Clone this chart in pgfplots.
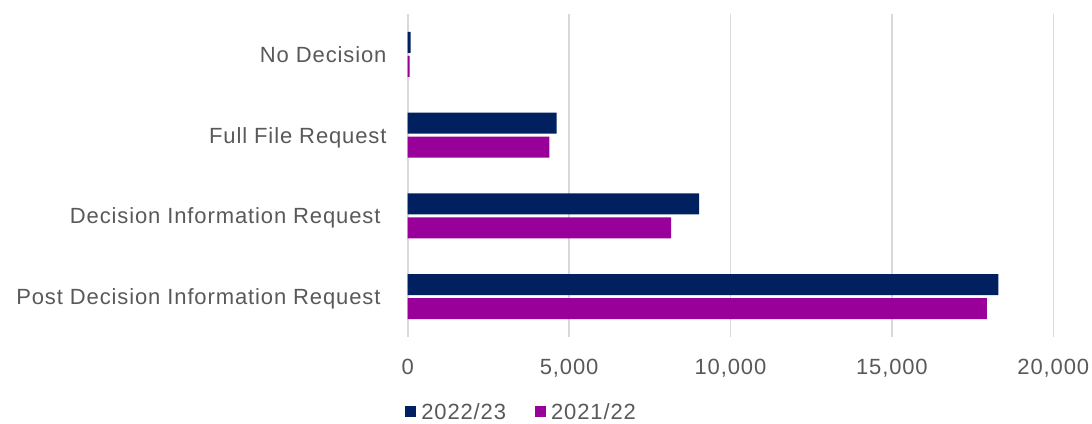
\documentclass[border=0pt]{standalone}
\usepackage{pgfplots}
\pgfplotsset{compat=1.18}
\usepackage{fontspec}
\setmainfont{Liberation Sans}[LetterSpace=4]
\definecolor{navy}{HTML}{002060}
\definecolor{plum}{HTML}{990099}
\definecolor{txt}{HTML}{595959}
\definecolor{gridc}{HTML}{D9D9D9}

\begin{document}
\begin{tikzpicture}
\begin{axis}[
  at={(407.7pt,86pt)}, anchor=south west,
  scale only axis, width=645.6pt, height=323pt,
  xbar, bar width=21pt,
  xmin=0, xmax=20000, ymin=-0.5, ymax=3.5,
  xtick={0,5000,...,20000},
  scaled x ticks=false,
  ytick={0,1,2,3},
  yticklabels={Post Decision Information Request\hspace*{6pt},Decision Information Request\hspace*{6pt},Full File Request,No Decision},
  axis line style={draw=none},
  major tick length=0pt,
  xmajorgrids, major grid style={gridc, line width=1.6pt},
  font=\fontsize{22}{26}\selectfont,
  tick label style={text=txt},
  xticklabel style={anchor=base, inner sep=0pt, yshift=-37pt},
  yticklabel style={anchor=base east, inner sep=0pt, xshift=-21pt, yshift=-8pt},
  /pgf/number format/assume math mode=true,
  /pgf/number format/fixed,
  /pgf/number format/1000 sep={,},
  legend columns=2,
  legend style={at={(rel axis cs:-0.004,-0.232)}, anchor=west, draw=none, fill=none,
    inner sep=0pt, text=txt, font=\fontsize{22}{26}\selectfont,
    /tikz/every even column/.append style={column sep=27pt}},
  legend image code/.code={\fill[#1] (0pt,-5.5pt) rectangle (11pt,5.5pt); \path (14pt,0pt);},
]
% 2022/23
\addplot[fill=navy, draw=none, bar shift=12pt] coordinates {
  (18300,0) (9030,1) (4610,2) (90,3)};
% 2021/22
\addplot[fill=plum, draw=none, bar shift=-12pt] coordinates {
  (17940,0) (8160,1) (4390,2) (60,3)};
\legend{2022/23,2021/22}
\end{axis}
\pgfresetboundingbox
\path (0,0) rectangle (1092pt,423pt);
\end{tikzpicture}
\end{document}
